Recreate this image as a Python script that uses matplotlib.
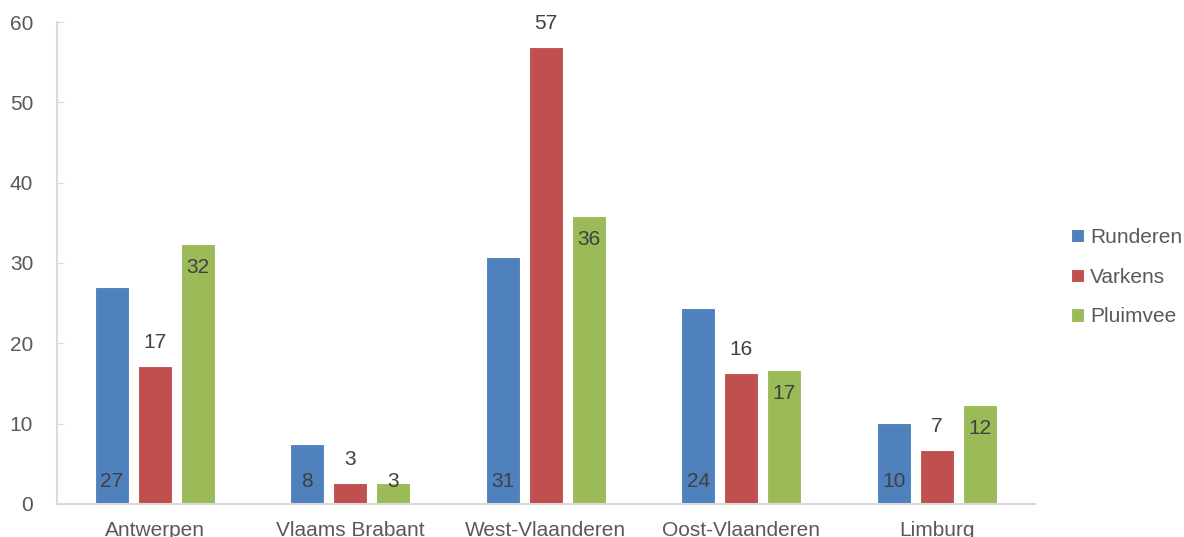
import matplotlib
matplotlib.use("Agg")
import matplotlib.pyplot as plt
import numpy as np

categories = ["Antwerpen", "Vlaams Brabant", "West-Vlaanderen", "Oost-Vlaanderen", "Limburg"]
series_names = ["Runderen", "Varkens", "Pluimvee"]
runderen = [27.0, 7.5, 30.8, 24.4, 10.1]
varkens = [17.2, 2.6, 56.9, 16.3, 6.7]
pluimvee = [32.4, 2.6, 35.9, 16.7, 12.3]
yticks = [0, 10, 20, 30, 40, 50, 60]

colors = ["#4F81BD", "#C0504D", "#9BBB59"]
txt = "#595959"
lab = "#404040"

plt.rcParams['font.family'] = ['Liberation Sans', 'DejaVu Sans']

fig = plt.figure(figsize=(11.84, 5.37), dpi=100)
ax = fig.add_axes([0.048, 0.0615, 0.826, 0.8975])

x = np.arange(len(categories))
w = 0.174
step = 0.22
data = [runderen, varkens, pluimvee]
bars = []
for i, (vals, c, name) in enumerate(zip(data, colors, series_names)):
    b = ax.bar(x + (i - 1) * step, vals, w, color=c, edgecolor="white", linewidth=0.8, label=name)
    bars.append(b)

fs = 15
# Runderen labels inside base
for rect, v in zip(bars[0], runderen):
    ax.annotate(f"{v:.0f}", (rect.get_x() + rect.get_width() / 2, 0), xytext=(0, 16),
                textcoords="offset points", ha="center", va="center", fontsize=fs, color=lab)
# Varkens labels outside end
for rect, v in zip(bars[1], varkens):
    ax.annotate(f"{v:.0f}", (rect.get_x() + rect.get_width() / 2, v), xytext=(0, 17),
                textcoords="offset points", ha="center", va="center", fontsize=fs, color=lab)
# Pluimvee labels inside end (short bars fall back to the base)
for rect, v in zip(bars[2], pluimvee):
    xc = rect.get_x() + rect.get_width() / 2
    if v < 4:
        ax.annotate(f"{v:.0f}", (xc, 0), xytext=(0, 16),
                    textcoords="offset points", ha="center", va="center", fontsize=fs, color=lab)
    else:
        ax.annotate(f"{v:.0f}", (xc, v), xytext=(0, -17),
                    textcoords="offset points", ha="center", va="center", fontsize=fs, color=lab)

ax.set_xlim(-0.5, len(categories) - 0.5)
ax.set_ylim(0, 60)
ax.set_yticks(yticks)
ax.set_yticklabels([str(t) for t in yticks])
ax.set_xticks(x)
ax.set_xticklabels(categories)
ax.tick_params(axis="y", direction="in", length=5, color="#D9D9D9", labelsize=fs, labelcolor=txt, pad=17)
ax.tick_params(axis="x", length=0, labelsize=fs, labelcolor=txt, pad=12)
for s in ["top", "right"]:
    ax.spines[s].set_visible(False)
for s in ["left", "bottom"]:
    ax.spines[s].set_color("#D9D9D9")
    ax.spines[s].set_linewidth(1.5)

leg = fig.legend(handles=bars, labels=series_names, loc="center left", bbox_to_anchor=(0.889, 0.484),
                 frameon=False, fontsize=fs, handlelength=0.6, handleheight=0.6,
                 handletextpad=0.3, labelspacing=1.0, labelcolor=txt)

fig.savefig("out.png", dpi=100)
